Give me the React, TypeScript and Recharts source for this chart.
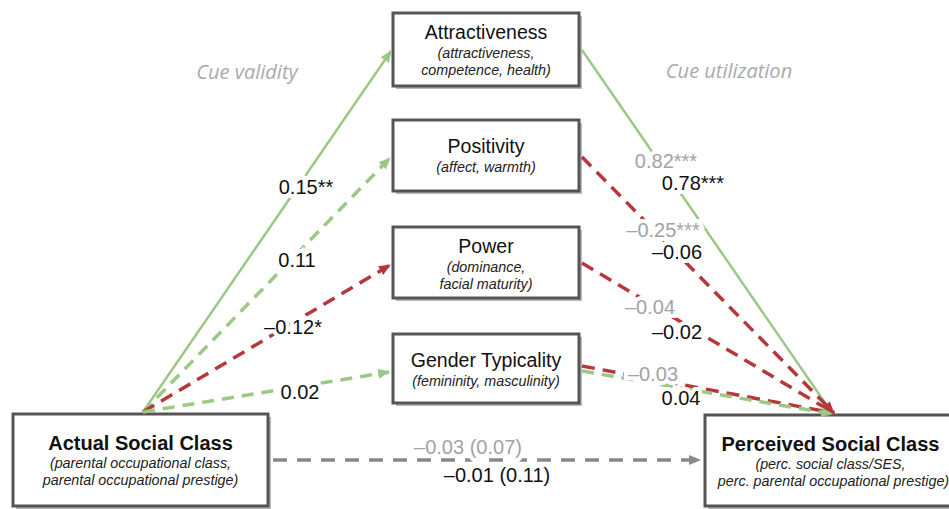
import React from 'react';
import { ComposedChart, XAxis, YAxis, ReferenceArea, ReferenceLine, Scatter } from 'recharts';

// nodes of the lens model
const nodeIds = ['attr', 'pos', 'pow', 'gen', 'actual', 'perceived'];
const nodeTitles = ['Attractiveness', 'Positivity', 'Power', 'Gender Typicality', 'Actual Social Class', 'Perceived Social Class'];
const nodeSubtitles = [
  ['(attractiveness,', 'competence, health)'],
  ['(affect, warmth)'],
  ['(dominance,', 'facial maturity)'],
  ['(femininity, masculinity)'],
  ['(parental occupational class,', 'parental occupational prestige)'],
  ['(perc. social class/SES,', 'perc. parental occupational prestige)'],
];

// path coefficients (cue order: attr, pos, pow, gen)
const cueValidity = ['0.15**', '0.11', '–0.12*', '0.02'];
const cueUtilGray = ['0.82***', '–0.25***', '–0.04', '–0.03'];
const cueUtilBlack = ['0.78***', '–0.06', '–0.02', '0.04'];
const directGray = '–0.03 (0.07)';
const directBlack = '–0.01 (0.11)';
const sectionTitles = ['Cue validity', 'Cue utilization'];

// ---- layout (diagram units = pixels) ----
const boxLayout: Record<string, { x1: number; x2: number; y1: number; y2: number; bold?: boolean }> = {
  attr: { x1: 393, x2: 579, y1: 13, y2: 86 },
  pos: { x1: 393, x2: 579, y1: 120, y2: 191 },
  pow: { x1: 393, x2: 579, y1: 227, y2: 298 },
  gen: { x1: 393, x2: 579, y1: 334, y2: 403 },
  actual: { x1: 13, x2: 268, y1: 414, y2: 506, bold: true },
  perceived: { x1: 705, x2: 962, y1: 415, y2: 506, bold: true },
};

const GREEN = '#9cc884';
const RED = '#b5383c';
const GRAY = '#8a8a8a';

const edges = [
  { a: [143, 412], b: [391, 51], color: GREEN, dash: undefined, id: 'g' },
  { a: [143, 412], b: [390, 158], color: GREEN, dash: '12 8', id: 'g' },
  { a: [143, 412], b: [390, 265], color: RED, dash: '13 8', id: 'r' },
  { a: [143, 412], b: [389, 372], color: GREEN, dash: '12 8', id: 'g' },
  { a: [582, 50], b: [832, 413], color: GREEN, dash: undefined, id: 'g' },
  { a: [582, 157], b: [834, 413], color: RED, dash: '13 8', id: 'r' },
  { a: [582, 263], b: [834, 413], color: RED, dash: '13 8', id: 'r' },
  { a: [582, 366], b: [834, 413], color: RED, dash: '13 8', id: 'r' },
  { a: [582, 371], b: [832, 414], color: GREEN, dash: '12 8', id: 'g' },
  { a: [273, 460], b: [700, 460], color: GRAY, dash: '14 10', id: 'k' },
];

const validityPos = [[306, 187], [297, 260], [293, 327], [300, 392]];
const utilGrayPos = [[666, 161], [663, 230], [650, 307], [653, 374]];
const utilBlackPos = [[693, 183], [677, 252], [677, 332], [681, 398]];
const directPos = [[468, 447], [497, 475]];
const sectionPos = [[247, 71], [729, 70]];

const labels = [
  ...cueValidity.map((t, i) => ({ x: validityPos[i][0], y: validityPos[i][1], text: t, color: '#111', kind: 'num' })),
  ...cueUtilGray.map((t, i) => ({ x: utilGrayPos[i][0], y: utilGrayPos[i][1], text: t, color: '#a3a3a3', kind: 'num' })),
  ...cueUtilBlack.map((t, i) => ({ x: utilBlackPos[i][0], y: utilBlackPos[i][1], text: t, color: '#111', kind: 'num' })),
  { x: directPos[0][0], y: directPos[0][1], text: directGray, color: '#a3a3a3', kind: 'num' },
  { x: directPos[1][0], y: directPos[1][1], text: directBlack, color: '#111', kind: 'num' },
  ...sectionTitles.map((t, i) => ({ x: sectionPos[i][0], y: sectionPos[i][1], text: t, color: '#aaaaaa', kind: 'section' })),
];

const FONT = '"Liberation Sans", Arial, Helvetica, sans-serif';

const LabelShape = (props: any) => {
  const { cx, cy, payload } = props;
  const section = payload.kind === 'section';
  return (
    <text
      x={cx}
      y={cy}
      textAnchor="middle"
      dominantBaseline="central"
      fontFamily={section ? '"Open Sans", sans-serif' : FONT}
      fontStyle={section ? 'italic' : 'normal'}
      fontSize={section ? 20 : 20}
      fill={payload.color}
      stroke={section ? 'none' : '#fff'}
      strokeWidth={8}
      paintOrder="stroke"
    >
      {payload.text}
    </text>
  );
};

const makeBox = (idx: number) => (props: any) => {
  const { x, y, width, height } = props;
  const bold = boxLayout[nodeIds[idx]].bold;
  const subs = nodeSubtitles[idx];
  const cx = x + width / 2 - (idx === 5 ? 3 : 0);
  const titleY = bold ? y + 29 : y + (subs.length === 2 ? 19 : 26);
  return (
    <g>
      <rect x={x + 3} y={y + 3} width={width} height={height} fill="#b8b8b8" />
      <rect x={x} y={y} width={width} height={height} fill="#fff" stroke="#555" strokeWidth={3} />
      <text x={cx} y={titleY} textAnchor="middle" dominantBaseline="central" fontFamily={FONT}
        fontSize={bold ? 20 : 19.5} fontWeight={bold ? 'bold' : 'normal'} fill="#111">
        {nodeTitles[idx]}
      </text>
      {subs.map((s, i) => (
        <text key={i} x={cx + (idx === 5 && i === 1 ? 3 : 0)} y={titleY + (bold ? 20 : 21) + i * 17} textAnchor="middle"
          dominantBaseline="central" fontFamily={FONT} fontStyle="italic" fontSize={14.3} fill="#222">
          {s}
        </text>
      ))}
    </g>
  );
};

const makeEdge = (color: string, dash: string | undefined, id: string) => (props: any) => (
  <line x1={props.x1} y1={props.y1} x2={props.x2} y2={props.y2} stroke={color}
    strokeWidth={dash ? 3.5 : 2.5} strokeDasharray={dash} markerEnd={`url(#arrow-${id})`} />
);

const App = () => {
  return (
    <div style={{ position: 'absolute', left: 0, top: 0 }}>
      <ComposedChart width={949} height={509} margin={{ top: 0, right: 0, bottom: 0, left: 0 }}>
        <defs>
          <marker id="arrow-g" markerWidth="12" markerHeight="10" refX="11" refY="5" orient="auto" markerUnits="userSpaceOnUse">
            <path d="M0,0 L12,5 L0,10 Z" fill={GREEN} />
          </marker>
          <marker id="arrow-r" markerWidth="12" markerHeight="10" refX="11" refY="5" orient="auto" markerUnits="userSpaceOnUse">
            <path d="M0,0 L12,5 L0,10 Z" fill={RED} />
          </marker>
          <marker id="arrow-k" markerWidth="12" markerHeight="10" refX="11" refY="5" orient="auto" markerUnits="userSpaceOnUse">
            <path d="M0,0 L12,5 L0,10 Z" fill={GRAY} />
          </marker>
        </defs>
        <XAxis type="number" dataKey="x" domain={[0, 949]} hide allowDataOverflow />
        <YAxis type="number" dataKey="y" domain={[0, 509]} reversed hide allowDataOverflow />
        {edges.map((e, i) => (
          <ReferenceLine key={'e' + i} segment={[{ x: e.a[0], y: e.a[1] }, { x: e.b[0], y: e.b[1] }]}
            ifOverflow="visible" shape={makeEdge(e.color, e.dash, e.id)} />
        ))}
        {nodeIds.map((id, i) => (
          <ReferenceArea key={id} x1={boxLayout[id].x1} x2={boxLayout[id].x2} y1={boxLayout[id].y1} y2={boxLayout[id].y2}
            ifOverflow="visible" shape={makeBox(i)} />
        ))}
        <Scatter data={labels} shape={LabelShape} isAnimationActive={false} />
      </ComposedChart>
    </div>
  );
};

export default App;
